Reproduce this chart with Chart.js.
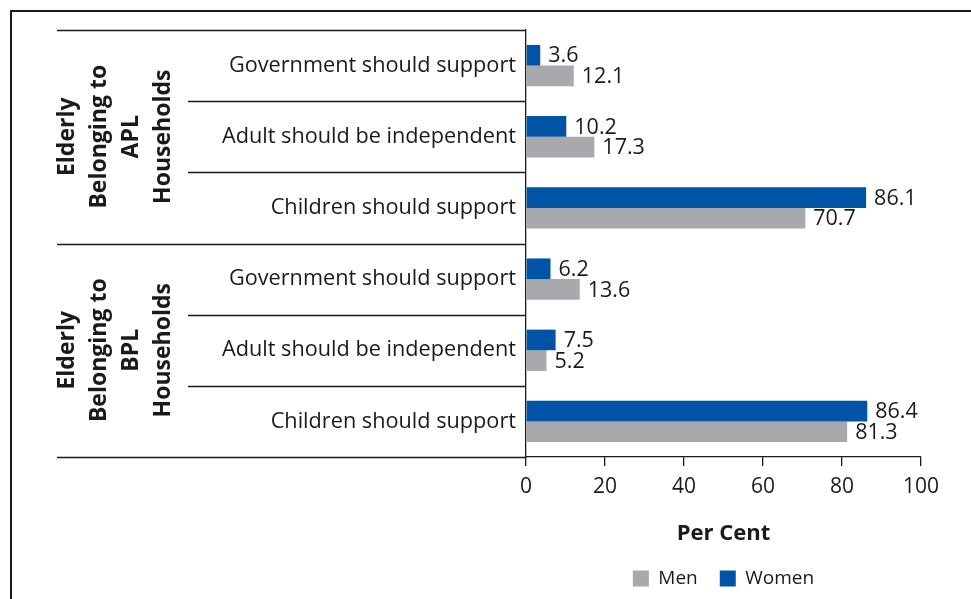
<!DOCTYPE html>
<html>
<head>
<meta charset="utf-8">
<script src="https://cdn.jsdelivr.net/npm/chart.js@4.4.1/dist/chart.umd.min.js"></script>
<style>
  html, body { margin: 0; padding: 0; background: #fff; }
  #wrap { position: relative; width: 971px; height: 599px; overflow: hidden; }
  #frame { position: absolute; left: 10px; top: 10px; width: 980px; height: 600px;
           border-left: 2px solid #1a1a1a; border-top: 2px solid #1a1a1a; }
  canvas { position: absolute; left: 0; top: 0; }
</style>
</head>
<body>
<div id="wrap">
  <div id="frame"></div>
  <canvas id="chart" width="971" height="599"></canvas>
</div>
<script>
// Response categories, top to bottom (two household groups of three)
const categories = [
  'Government should support',
  'Adult should be independent',
  'Children should support',
  'Government should support',
  'Adult should be independent',
  'Children should support'
];
// Group captions, one entry per household group, split into lines
const groupAPL = ['Elderly', 'Belonging to', 'APL', 'Households'];
const groupBPL = ['Elderly', 'Belonging to', 'BPL', 'Households'];
// Per cent of respondents
const women = [3.6, 10.2, 86.1, 6.2, 7.5, 86.4];
const men   = [12.1, 17.3, 70.7, 13.6, 5.2, 81.3];
// Value axis ticks
const xTicks = [0, 20, 40, 60, 80, 100];

const FONT = '"Open Sans", "Noto Sans", sans-serif';
const INK = '#1a1a1a';
const BLUE = '#0054a6';
const GREY = '#a7a9ac';

// Row separators to the left of the axis, plus rotated group captions
const rowFrame = {
  id: 'rowFrame',
  afterDraw(chart) {
    const ctx = chart.ctx;
    const ys = chart.scales.y;
    const area = chart.chartArea;
    const n = categories.length;
    const bounds = [];
    for (let i = 0; i <= n; i++) {
      if (i === 0) bounds.push(area.top);
      else if (i === n) bounds.push(area.bottom);
      else bounds.push((ys.getPixelForValue(i - 1) + ys.getPixelForValue(i)) / 2);
    }
    ctx.save();
    ctx.strokeStyle = INK;
    ctx.lineWidth = 1.3;
    bounds.forEach((y, i) => {
      const startX = (i % 3 === 0) ? 57 : 188;
      ctx.beginPath();
      ctx.moveTo(startX, Math.round(y) + 0.5);
      ctx.lineTo(area.left, Math.round(y) + 0.5);
      ctx.stroke();
    });
    // group captions
    ctx.fillStyle = INK;
    ctx.font = 'bold 23px ' + FONT;
    ctx.textAlign = 'center';
    ctx.textBaseline = 'middle';
    [groupAPL, groupBPL].forEach((lines, g) => {
      const cy = (bounds[g * 3] + bounds[g * 3 + 3]) / 2;
      lines.forEach((txt, k) => {
        ctx.save();
        ctx.translate(67 + k * 32, cy);
        ctx.rotate(-Math.PI / 2);
        ctx.fillText(txt, 0, 0);
        ctx.restore();
      });
    });
    ctx.restore();
  }
};

// Value printed after the end of each bar
const valueLabels = {
  id: 'valueLabels',
  afterDatasetsDraw(chart) {
    const ctx = chart.ctx;
    ctx.save();
    ctx.font = '21.5px ' + FONT;
    ctx.fillStyle = INK;
    ctx.textAlign = 'left';
    ctx.textBaseline = 'middle';
    chart.data.datasets.forEach((ds, i) => {
      chart.getDatasetMeta(i).data.forEach((bar, j) => {
        ctx.fillText(ds.data[j].toFixed(1), bar.x + 8, bar.y + 1);
      });
    });
    ctx.restore();
  }
};

new Chart(document.getElementById('chart'), {
  type: 'bar',
  data: {
    labels: categories,
    datasets: [
      { label: 'Women', data: women, backgroundColor: BLUE },
      { label: 'Men', data: men, backgroundColor: GREY }
    ]
  },
  options: {
    responsive: false,
    animation: false,
    indexAxis: 'y',
    layout: { padding: { left: 0, right: 50, top: 30, bottom: 1 } },
    datasets: { bar: { barPercentage: 1, categoryPercentage: 0.58 } },
    scales: {
      y: {
        grid: { display: false, drawTicks: false },
        border: { display: true, color: INK, width: 1.3 },
        ticks: { color: INK, font: { family: FONT, size: 21.7 }, padding: 10 },
        afterFit(scale) { scale.width = 526; }
      },
      x: {
        min: 0,
        max: 100,
        afterBuildTicks(scale) { scale.ticks = xTicks.map(v => ({ value: v })); },
        afterFit(scale) { scale.height = 90; },
        grid: { display: true, drawOnChartArea: false, drawTicks: true, tickLength: 9, color: INK, lineWidth: 1.3 },
        border: { display: true, color: INK, width: 1.3 },
        ticks: { color: INK, font: { family: FONT, size: 21 }, padding: 8, maxRotation: 0 },
        title: { display: true, text: 'Per Cent', color: INK,
                 font: { family: FONT, size: 22, weight: 'bold', lineHeight: 1 },
                 padding: { top: 14, bottom: 2 } }
      }
    },
    plugins: {
      legend: {
        position: 'bottom',
        fullSize: false,
        reverse: true,
        labels: { boxWidth: 16, boxHeight: 16, color: INK, padding: 22,
                  font: { family: FONT, size: 19 } }
      },
      tooltip: { enabled: false }
    }
  },
  plugins: [rowFrame, valueLabels]
});
</script>
</body>
</html>
